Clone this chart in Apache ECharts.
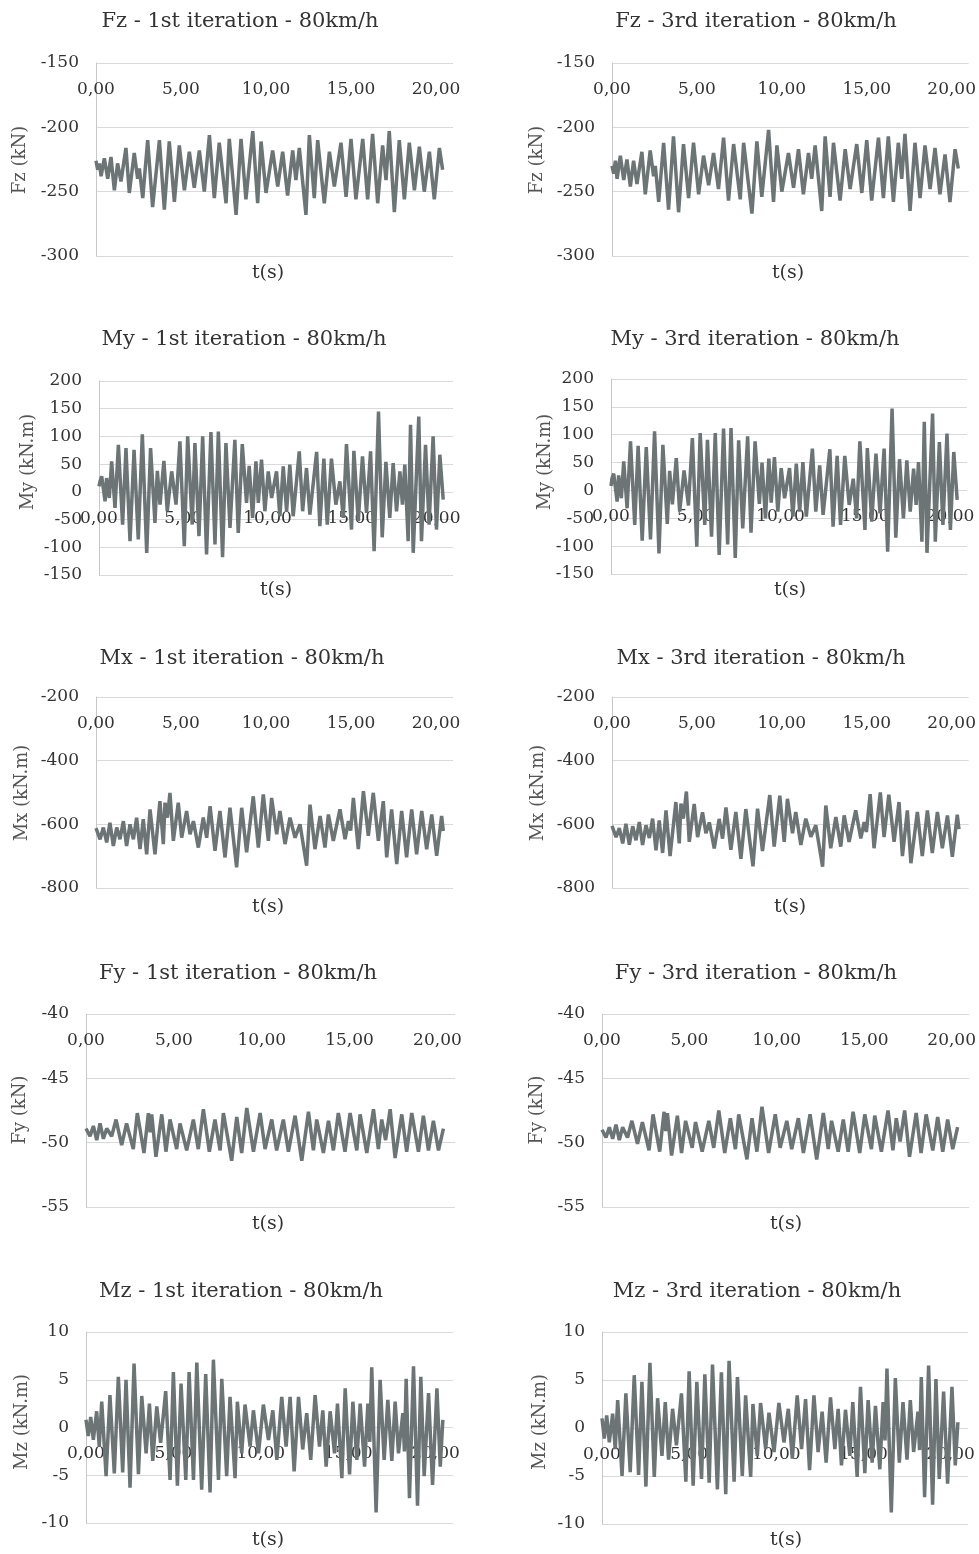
<!DOCTYPE html>
<html>
<head>
<meta charset="utf-8">
<title>Forces and moments - 80km/h</title>
<script src="https://cdn.jsdelivr.net/npm/echarts/dist/echarts.min.js"></script>
<style>
html, body { margin: 0; padding: 0; background: #fff; }
#main { width: 979px; height: 1554px; }
</style>
</head>
<body>
<div id="main"></div>
<script>
// [t (s), value], peaks and troughs
var fz1 = [[0,-226],[0.1,-233],[0.2,-228],[0.3,-238],[0.49,-224],[0.69,-240],[0.88,-223],[1.08,-249],[1.27,-228],[1.47,-242],[1.76,-216],[1.96,-251],[2.25,-220],[2.45,-240],[2.55,-232],[2.75,-255],[3.04,-210],[3.33,-262],[3.73,-210],[4.02,-264],[4.31,-211],[4.61,-258],[4.9,-214],[5.2,-249],[5.49,-219],[5.78,-247],[6.08,-218],[6.37,-250],[6.67,-206],[6.96,-255],[7.25,-212],[7.65,-259],[7.84,-209],[8.24,-268],[8.53,-209],[8.82,-256],[9.22,-203],[9.51,-259],[9.71,-211],[10.0,-251],[10.39,-218],[10.69,-246],[10.98,-219],[11.27,-253],[11.57,-218],[11.76,-241],[11.96,-216],[12.35,-268],[12.55,-206],[12.84,-255],[13.04,-210],[13.43,-259],[13.73,-219],[14.02,-246],[14.41,-212],[14.71,-254],[15.0,-209],[15.29,-256],[15.69,-209],[15.98,-256],[16.27,-205],[16.57,-259],[16.86,-214],[17.06,-241],[17.25,-203],[17.55,-266],[17.84,-210],[18.14,-256],[18.43,-212],[18.73,-249],[19.02,-215],[19.31,-250],[19.61,-219],[19.9,-256],[20.2,-216],[20.39,-233]];
var fz3 = [[0,-230],[0.1,-236],[0.2,-226],[0.3,-240],[0.49,-222],[0.69,-241],[0.88,-225],[1.08,-246],[1.27,-226],[1.47,-244],[1.76,-219],[1.96,-252],[2.25,-218],[2.45,-238],[2.55,-230],[2.75,-258],[3.04,-212],[3.33,-264],[3.62,-207],[3.92,-266],[4.21,-213],[4.51,-255],[4.8,-212],[5.1,-252],[5.39,-222],[5.69,-245],[5.98,-220],[6.27,-248],[6.57,-208],[6.86,-257],[7.16,-213],[7.55,-256],[7.75,-212],[8.24,-267],[8.53,-211],[8.82,-254],[9.22,-202],[9.51,-258],[9.71,-214],[10.0,-250],[10.39,-220],[10.69,-247],[10.98,-217],[11.27,-252],[11.57,-220],[11.76,-240],[11.96,-214],[12.35,-265],[12.55,-207],[12.84,-254],[13.04,-212],[13.43,-257],[13.73,-217],[14.02,-248],[14.41,-213],[14.71,-251],[15.0,-210],[15.29,-257],[15.69,-208],[15.98,-255],[16.27,-207],[16.57,-258],[16.86,-212],[17.06,-240],[17.25,-205],[17.55,-265],[17.84,-212],[18.14,-255],[18.43,-214],[18.73,-248],[19.02,-216],[19.31,-252],[19.61,-221],[19.9,-258],[20.2,-217],[20.39,-232]];
var my1 = [[0,10],[0.06,19],[0.16,28],[0.36,-17],[0.45,25],[0.61,-11],[0.75,55],[0.95,-29],[1.15,85],[1.4,-59],[1.6,79],[1.84,-89],[2.08,76],[2.33,-86],[2.57,104],[2.83,-110],[3.06,79],[3.32,-56],[3.46,38],[3.62,-23],[3.85,56],[4.05,-35],[4.31,37],[4.57,-23],[4.8,91],[5.06,-98],[5.26,100],[5.53,-59],[5.69,88],[5.93,-80],[6.15,100],[6.38,-113],[6.64,108],[6.88,-95],[7.08,109],[7.33,-118],[7.53,88],[7.77,-65],[8.06,94],[8.26,-74],[8.5,86],[8.75,-20],[8.91,47],[9.11,-47],[9.31,55],[9.45,-20],[9.64,58],[9.84,-35],[10.04,37],[10.24,-11],[10.53,37],[10.73,-44],[10.93,46],[11.13,-35],[11.32,49],[11.52,-44],[11.88,73],[12.08,-35],[12.31,43],[12.51,-41],[12.91,72],[13.1,-62],[13.34,60],[13.54,-59],[13.79,60],[14.05,-23],[14.29,19],[14.49,-47],[14.68,86],[14.98,-68],[15.12,74],[15.38,-53],[15.63,64],[15.87,-38],[16.11,73],[16.32,-107],[16.58,145],[16.8,-82],[17.02,54],[17.25,-47],[17.45,52],[17.65,-35],[17.85,37],[18.0,-23],[18.14,49],[18.34,-89],[18.48,121],[18.64,-110],[18.97,136],[19.13,-89],[19.37,85],[19.58,-59],[19.82,100],[20.02,-68],[20.22,67],[20.42,-14]];
var my3 = [[0,8],[0.06,22],[0.16,30],[0.36,-20],[0.45,27],[0.61,-14],[0.75,52],[0.95,-32],[1.15,88],[1.4,-62],[1.6,80],[1.84,-90],[2.08,78],[2.33,-88],[2.57,106],[2.83,-113],[3.06,82],[3.32,-60],[3.46,35],[3.62,-25],[3.85,58],[4.05,-38],[4.31,36],[4.57,-27],[4.8,94],[5.06,-101],[5.26,103],[5.53,-62],[5.69,91],[5.93,-83],[6.15,103],[6.38,-116],[6.64,111],[6.88,-97],[7.08,112],[7.33,-121],[7.53,90],[7.77,-68],[8.06,97],[8.26,-76],[8.5,88],[8.75,-24],[8.91,50],[9.11,-50],[9.31,57],[9.45,-22],[9.64,60],[9.84,-38],[10.04,40],[10.24,-14],[10.53,40],[10.73,-47],[10.93,48],[11.13,-38],[11.32,51],[11.52,-47],[11.88,75],[12.08,-38],[12.31,45],[12.51,-44],[12.91,74],[13.1,-65],[13.34,62],[13.54,-62],[13.79,62],[14.05,-26],[14.29,21],[14.49,-50],[14.68,88],[14.98,-71],[15.12,76],[15.38,-56],[15.63,66],[15.87,-41],[16.11,75],[16.32,-110],[16.58,147],[16.8,-85],[17.02,56],[17.25,-50],[17.45,54],[17.65,-38],[17.85,39],[18.0,-26],[18.14,51],[18.34,-92],[18.48,123],[18.64,-112],[18.97,138],[19.13,-92],[19.37,87],[19.58,-62],[19.82,102],[20.02,-71],[20.22,69],[20.42,-17]];
var mx1 = [[0,-612],[0.24,-647],[0.43,-610],[0.63,-657],[0.82,-595],[1.02,-668],[1.22,-610],[1.41,-647],[1.61,-590],[1.8,-668],[2.0,-600],[2.2,-647],[2.39,-579],[2.59,-678],[2.78,-584],[2.98,-694],[3.18,-553],[3.47,-694],[3.76,-527],[3.96,-662],[4.06,-532],[4.2,-579],[4.35,-501],[4.55,-652],[4.84,-532],[5.04,-642],[5.33,-558],[5.53,-631],[5.73,-590],[6.02,-673],[6.31,-579],[6.51,-642],[6.71,-543],[7.0,-683],[7.29,-558],[7.59,-704],[7.88,-548],[8.27,-735],[8.57,-548],[8.86,-688],[9.25,-512],[9.55,-673],[9.84,-506],[10.14,-652],[10.33,-517],[10.63,-631],[10.82,-558],[11.12,-662],[11.41,-579],[11.71,-642],[12.0,-600],[12.39,-730],[12.59,-538],[12.88,-678],[13.18,-574],[13.47,-673],[13.67,-569],[13.96,-652],[14.35,-553],[14.65,-647],[14.85,-590],[14.98,-620],[15.14,-517],[15.43,-678],[15.73,-496],[16.02,-636],[16.31,-501],[16.61,-652],[16.9,-527],[17.1,-704],[17.39,-553],[17.69,-725],[17.98,-558],[18.27,-704],[18.57,-553],[18.86,-694],[19.16,-558],[19.45,-678],[19.75,-569],[20.04,-699],[20.33,-574],[20.43,-621]];
var mx3 = [[0,-605],[0.24,-640],[0.43,-612],[0.63,-660],[0.82,-598],[1.02,-664],[1.22,-606],[1.41,-650],[1.61,-593],[1.8,-665],[2.0,-603],[2.2,-643],[2.39,-582],[2.59,-682],[2.78,-588],[2.98,-690],[3.18,-556],[3.42,-700],[3.76,-530],[3.96,-660],[4.06,-535],[4.2,-582],[4.38,-497],[4.55,-655],[4.84,-536],[5.04,-640],[5.33,-562],[5.53,-628],[5.73,-594],[6.02,-676],[6.31,-583],[6.51,-645],[6.71,-547],[7.0,-680],[7.29,-561],[7.59,-708],[7.88,-552],[8.3,-732],[8.57,-551],[8.86,-684],[9.29,-508],[9.55,-670],[9.88,-510],[10.14,-655],[10.33,-520],[10.63,-628],[10.82,-561],[11.12,-665],[11.41,-582],[11.71,-639],[12.0,-603],[12.4,-733],[12.59,-541],[12.88,-675],[13.18,-577],[13.47,-670],[13.67,-572],[13.96,-655],[14.35,-556],[14.65,-644],[14.85,-593],[14.98,-624],[15.2,-505],[15.43,-675],[15.8,-500],[16.02,-640],[16.3,-507],[16.61,-655],[16.9,-530],[17.1,-700],[17.39,-556],[17.6,-722],[17.98,-561],[18.27,-700],[18.57,-556],[18.86,-690],[19.16,-561],[19.45,-675],[19.75,-572],[20.04,-702],[20.33,-570],[20.43,-615]];
var fy1 = [[0,-48.9],[0.23,-49.5],[0.42,-48.7],[0.61,-49.8],[0.8,-48.5],[0.99,-49.7],[1.18,-48.9],[1.46,-49.5],[1.71,-48.2],[2.03,-50.2],[2.31,-48.5],[2.69,-50.5],[2.92,-47.7],[3.3,-50.8],[3.55,-47.7],[3.65,-49.2],[3.74,-47.8],[3.98,-51.1],[4.31,-47.8],[4.55,-50.7],[4.78,-48.2],[5.16,-50.5],[5.35,-48.5],[5.73,-50.6],[6.11,-48.2],[6.39,-50.5],[6.68,-47.4],[7.02,-50.7],[7.34,-48.2],[7.63,-50.6],[7.82,-47.7],[8.29,-51.4],[8.58,-48.0],[8.86,-50.8],[9.15,-47.3],[9.53,-50.7],[9.91,-47.7],[10.19,-50.5],[10.57,-48.2],[10.85,-50.6],[11.23,-48.2],[11.52,-50.7],[11.9,-47.9],[12.28,-51.4],[12.66,-47.6],[12.94,-50.6],[13.13,-48.2],[13.51,-50.8],[13.8,-48.3],[14.08,-50.6],[14.36,-47.7],[14.74,-50.7],[15.03,-47.7],[15.41,-50.6],[15.6,-47.8],[15.98,-50.8],[16.36,-47.4],[16.64,-50.5],[16.83,-48.2],[17.05,-49.8],[17.31,-47.4],[17.59,-51.2],[17.97,-47.8],[18.25,-50.7],[18.54,-47.7],[18.92,-50.7],[19.2,-47.9],[19.49,-50.6],[19.77,-48.3],[20.06,-50.6],[20.34,-48.9]];
var fy3 = [[0,-49.0],[0.23,-49.6],[0.42,-48.8],[0.61,-49.7],[0.8,-48.6],[0.99,-49.8],[1.18,-48.8],[1.46,-49.6],[1.71,-48.3],[2.03,-50.1],[2.31,-48.4],[2.69,-50.6],[2.92,-47.8],[3.3,-50.7],[3.55,-47.6],[3.65,-49.1],[3.74,-47.7],[3.98,-51.0],[4.31,-47.9],[4.55,-50.8],[4.78,-48.3],[5.16,-50.4],[5.35,-48.4],[5.73,-50.7],[6.11,-48.3],[6.39,-50.4],[6.68,-47.5],[7.02,-50.8],[7.34,-48.1],[7.63,-50.5],[7.82,-47.8],[8.29,-51.3],[8.58,-48.1],[8.86,-50.7],[9.15,-47.2],[9.53,-50.8],[9.91,-47.8],[10.19,-50.4],[10.57,-48.3],[10.85,-50.5],[11.23,-48.1],[11.52,-50.8],[11.9,-47.8],[12.28,-51.3],[12.66,-47.7],[12.94,-50.5],[13.13,-48.3],[13.51,-50.7],[13.8,-48.2],[14.08,-50.7],[14.36,-47.6],[14.74,-50.8],[15.03,-47.8],[15.41,-50.5],[15.6,-47.9],[15.98,-50.7],[16.36,-47.5],[16.64,-50.6],[16.83,-48.1],[17.05,-49.9],[17.31,-47.5],[17.59,-51.1],[17.97,-47.7],[18.25,-50.8],[18.54,-47.8],[18.92,-50.6],[19.2,-48.0],[19.49,-50.7],[19.77,-48.2],[20.06,-50.5],[20.34,-48.8]];
var mz1 = [[0,0.8],[0.13,-0.9],[0.27,1.1],[0.42,-1.3],[0.61,1.7],[0.76,-2.0],[0.9,2.7],[1.15,-5.1],[1.37,3.4],[1.62,-4.8],[1.85,5.3],[2.1,-4.7],[2.29,5.0],[2.52,-6.3],[2.75,6.7],[3.0,-4.9],[3.19,3.3],[3.44,-2.7],[3.63,2.5],[3.82,-3.5],[4.05,2.2],[4.27,-1.6],[4.56,3.8],[4.81,-5.5],[5.0,5.8],[5.23,-6.1],[5.44,4.6],[5.71,-5.5],[5.9,5.8],[6.15,-5.5],[6.34,6.8],[6.62,-6.5],[6.85,5.6],[7.1,-6.8],[7.29,7.1],[7.58,-5.5],[7.77,5.1],[8.05,-5.1],[8.24,3.2],[8.53,-5.3],[8.66,2.7],[8.91,-2.7],[9.1,2.4],[9.39,-2.0],[9.58,1.8],[9.87,-2.7],[10.15,2.4],[10.44,-1.3],[10.69,1.8],[10.92,-3.4],[11.2,3.2],[11.45,-2.0],[11.68,3.2],[11.91,-4.6],[12.16,3.2],[12.4,-2.3],[12.63,1.5],[12.86,-3.4],[13.11,3.4],[13.36,-2.0],[13.55,1.8],[13.74,-4.1],[13.97,1.7],[14.22,-2.7],[14.39,2.5],[14.64,-5.3],[14.83,4.1],[15.08,-4.9],[15.27,2.7],[15.5,-3.4],[15.69,2.5],[15.94,-4.1],[16.13,2.5],[16.24,-1.5],[16.35,6.3],[16.6,-8.9],[16.83,5.0],[17.06,-3.4],[17.27,2.9],[17.5,-3.5],[17.69,2.7],[17.88,-2.7],[18.13,1.5],[18.22,-2.5],[18.32,5.1],[18.51,-7.4],[18.74,6.4],[18.97,-8.2],[19.16,5.3],[19.35,-5.1],[19.6,3.6],[19.83,-6.0],[20.08,4.1],[20.27,-4.1],[20.42,0.8]];
var mz3 = [[0,1.0],[0.13,-1.1],[0.27,1.3],[0.42,-1.5],[0.61,1.5],[0.76,-2.2],[0.9,2.9],[1.15,-5.0],[1.37,3.6],[1.62,-4.6],[1.85,5.5],[2.1,-4.9],[2.29,4.8],[2.52,-6.1],[2.75,6.8],[3.0,-5.1],[3.19,3.1],[3.44,-2.9],[3.63,2.7],[3.82,-3.3],[4.05,2.0],[4.27,-1.8],[4.56,3.6],[4.81,-5.6],[5.0,5.9],[5.23,-6.0],[5.44,4.8],[5.71,-5.3],[5.9,5.6],[6.15,-5.7],[6.34,6.6],[6.62,-6.4],[6.85,5.8],[7.1,-6.9],[7.29,7.0],[7.58,-5.6],[7.77,5.3],[8.05,-5.0],[8.24,3.4],[8.53,-5.1],[8.66,2.5],[8.91,-2.9],[9.1,2.6],[9.39,-2.2],[9.58,1.6],[9.87,-2.5],[10.15,2.6],[10.44,-1.5],[10.69,2.0],[10.92,-3.2],[11.2,3.4],[11.45,-2.2],[11.68,3.0],[11.91,-4.4],[12.16,3.4],[12.4,-2.5],[12.63,1.7],[12.86,-3.6],[13.11,3.2],[13.36,-2.2],[13.55,2.0],[13.74,-3.9],[13.97,1.9],[14.22,-2.9],[14.39,2.7],[14.64,-5.1],[14.83,4.3],[15.08,-4.7],[15.27,2.9],[15.5,-3.6],[15.69,2.3],[15.94,-4.3],[16.13,2.7],[16.24,-1.3],[16.35,6.2],[16.6,-8.8],[16.83,5.2],[17.06,-3.6],[17.27,2.7],[17.5,-3.3],[17.69,2.9],[17.88,-2.5],[18.13,1.7],[18.22,-2.3],[18.32,5.3],[18.51,-7.2],[18.74,6.5],[18.97,-8.0],[19.16,5.1],[19.35,-5.3],[19.6,3.8],[19.83,-5.8],[20.08,4.3],[20.27,-3.9],[20.42,0.6]];

var seriesData = [fz1, fz3, my1, my3, mx1, mx3, fy1, fy3, mz1, mz3];
var titles = ['Fz - 1st iteration - 80km/h', 'Fz - 3rd iteration - 80km/h',
    'My - 1st iteration - 80km/h', 'My - 3rd iteration - 80km/h',
    'Mx - 1st iteration - 80km/h', 'Mx - 3rd iteration - 80km/h',
    'Fy - 1st iteration - 80km/h', 'Fy - 3rd iteration - 80km/h',
    'Mz - 1st iteration - 80km/h', 'Mz - 3rd iteration - 80km/h'];
var yNames = ['Fz (kN)', 'My (kN.m)', 'Mx (kN.m)', 'Fy (kN)', 'Mz (kN.m)'];
var yMin = [-300, -150, -800, -55, -10];
var yMax = [-150, 200, -200, -40, 10];
var yStep = [50, 50, 200, 5, 5];
var xMin = 0, xMax = 21, xStep = 5;
var xName = 't(s)';

// layout: plot boxes [left, top, width, height]
var boxes = [[96, 63, 357, 193], [612, 63, 358, 193],
    [99, 381, 354, 194], [611, 379, 356, 195],
    [96, 697, 357, 191], [612, 697, 358, 191],
    [86, 1014, 369, 193], [602, 1014, 370, 193],
    [86, 1332, 367, 191], [602, 1332, 366, 192]];
var titlePos = [[240, 22], [756, 22], [244, 340], [755, 340], [242, 659], [761, 659],
    [238, 974], [756, 974], [241, 1292], [757, 1292]];
var xNamePos = [[268, 273], [788, 273], [276, 590], [790, 590], [268, 907], [790, 907],
    [268, 1224], [786, 1224], [268, 1540], [786, 1540]];
var yNamePos = [[20, 160], [537, 160], [28, 462], [545, 462], [22, 793], [538, 793],
    [20, 1110], [537, 1110], [22, 1422], [540, 1422]];

var FONT = '"DejaVu Serif", "Liberation Serif", serif';
var LINE = '#6c7476';

var chart = echarts.init(document.getElementById('main'));
var grids = [], xAxes = [], yAxes = [], series = [], texts = [];

for (var i = 0; i < seriesData.length; i++) {
    var r = Math.floor(i / 2);
    var b = boxes[i];
    var crossesZero = yMin[r] < 0 && yMax[r] > 0;
    // like Excel: the time axis crosses at y = 0, or at the top when 0 is above the range
    var zeroShift = crossesZero ? -(0 - yMin[r]) / (yMax[r] - yMin[r]) * b[3] : 0;
    grids.push({left: b[0], top: b[1], width: b[2], height: b[3]});
    xAxes.push({
        gridIndex: i,
        type: 'value',
        min: xMin,
        max: xMax,
        interval: xStep,
        position: crossesZero ? 'bottom' : 'top',
        offset: zeroShift,
        axisLine: {show: false, onZero: false},
        axisTick: {show: false},
        splitLine: {show: false},
        axisLabel: {
            inside: !crossesZero,
            margin: 18,
            fontFamily: FONT,
            fontSize: 17,
            color: '#333',
            formatter: function (v) {
                return v % 5 === 0 ? v.toFixed(2).replace('.', ',') : '';
            }
        }
    });
    yAxes.push({
        gridIndex: i,
        type: 'value',
        min: yMin[r],
        max: yMax[r],
        interval: yStep[r],
        axisLine: {show: true, onZero: false, lineStyle: {color: '#c8c8c8', width: 1}},
        axisTick: {show: false},
        splitLine: {lineStyle: {color: '#d9d9d9', width: 1}},
        axisLabel: {margin: 17, fontFamily: FONT, fontSize: 17, color: '#333'}
    });
    series.push({
        type: 'line',
        xAxisIndex: i,
        yAxisIndex: i,
        data: seriesData[i],
        showSymbol: false,
        lineStyle: {color: LINE, width: 3.5},
        animation: false
    });
    // title, x name, rotated y name
    texts.push({type: 'text', x: titlePos[i][0], y: titlePos[i][1],
        style: {text: titles[i], font: '21px ' + FONT, fill: '#333', align: 'center', verticalAlign: 'middle'}});
    texts.push({type: 'text', x: xNamePos[i][0], y: xNamePos[i][1],
        style: {text: xName, font: '19px ' + FONT, fill: '#333', align: 'center', verticalAlign: 'middle'}});
    texts.push({type: 'text', x: yNamePos[i][0], y: yNamePos[i][1], rotation: Math.PI / 2,
        style: {text: yNames[r], font: '18px ' + FONT, fill: '#555', align: 'center', verticalAlign: 'middle'}});
}

chart.setOption({
    animation: false,
    backgroundColor: '#fff',
    grid: grids,
    xAxis: xAxes,
    yAxis: yAxes,
    series: series,
    graphic: texts
});
</script>
</body>
</html>
